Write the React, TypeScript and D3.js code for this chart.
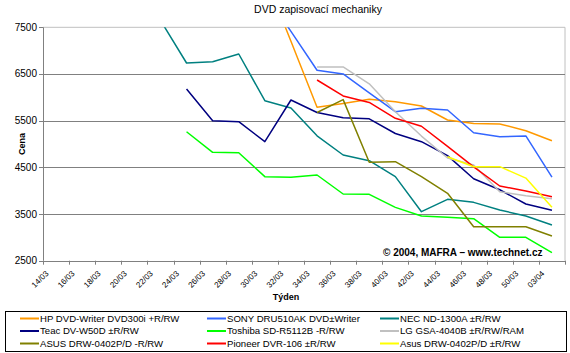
import React from "react";
import * as d3 from "d3";

const categories = ["14/03","16/03","18/03","20/03","22/03","24/03","26/03","28/03","30/03","32/03","34/03","36/03","38/03","40/03","42/03","44/03","46/03","48/03","50/03","03/04"];
const yTicks = [2500, 3500, 4500, 5500, 6500, 7500];

type V = number | null;
const hp: V[] =      [null,null,null,null,null,null,null,null,8600,7200,5786,5870,5960,5906,5814,5514,5440,5430,5285,5071];
const sony: V[] =    [null,null,null,null,null,null,null,null,8220,7414,6580,6500,6093,5692,5765,5729,5240,5157,5172,4290];
const nec: V[] =     [null,null,null,null,7650,6735,6763,6928,5928,5770,5175,4764,4642,4300,3550,3815,3750,3586,3458,3265];
const teac: V[] =    [null,null,null,null,null,6180,5500,5478,5050,5943,5675,5564,5540,5225,5050,4750,4255,4020,3715,3580];
const toshiba: V[] = [null,null,null,null,null,5263,4822,4814,4300,4287,4336,3929,3922,3643,3458,3430,3400,3000,3000,2671];
const lg: V[] =      [null,null,null,null,null,null,null,null,null,null,6650,6650,6290,5692,5170,4700,4550,3979,3890,3826];
const asusR: V[] =   [null,null,null,null,null,null,null,null,null,null,5675,5950,4608,4621,4300,3944,3229,3229,3229,3030];
const pioneer: V[] = [null,null,null,null,null,null,null,null,null,null,6371,6030,5890,5550,5380,4950,4510,4100,3995,3871];
const asusPM: V[] =  [null,null,null,null,null,null,null,null,null,null,null,null,null,null,null,4728,4514,4514,4270,3644];

const seriesNames = [
  "HP DVD-Writer DVD300i +R/RW",
  "SONY DRU510AK DVD±Writer",
  "NEC ND-1300A ±R/RW",
  "Teac DV-W50D ±R/RW",
  "Toshiba SD-R5112B -R/RW",
  "LG GSA-4040B ±R/RW/RAM",
  "ASUS DRW-0402P/D -R/RW",
  "Pioneer DVR-106 ±R/RW",
  "Asus DRW-0402P/D ±R/RW",
];
const seriesValues = [hp, sony, nec, teac, toshiba, lg, asusR, pioneer, asusPM];
const seriesColors = ["#FF9900", "#3366FF", "#008080", "#000080", "#00FF00", "#C0C0C0", "#808000", "#FF0000", "#FFFF00"];

const FONT = "'Liberation Sans', Arial, sans-serif";

export default function App() {
  const left = 43, right = 565, top = 27.3, bottom = 260.7;
  const x = d3.scaleBand<string>().domain(categories).range([left, right]).padding(0);
  const y = d3.scaleLinear().domain([2500, 7500]).range([bottom, top]);
  const cx = (i: number) => (x(categories[i]) as number) + x.bandwidth() / 2;

  const line = d3.line<V>()
    .defined((d) => d !== null)
    .x((_, i) => cx(i))
    .y((d) => y(d as number));

  const tickXs = categories.map((c) => x(c) as number).concat([right]);

  const legendCols = [20, 207, 380];
  const legendRows = [318.5, 331, 343.5];

  return (
    <svg width={570} height={353} style={{ position: "absolute", left: 0, top: 0, background: "#fff" }} fontFamily={FONT}>
      <defs>
        <clipPath id="plotclip">
          <rect x={left} y={top} width={right - left} height={bottom - top} />
        </clipPath>
      </defs>
      <text x={318} y={13} textAnchor="middle" fontSize={10.5} fill="#000">DVD zapisovací mechaniky</text>

      {/* plot border */}
      <line x1={left} x2={right} y1={top} y2={top} stroke="#c0c0c0" />
      <line x1={right} x2={right} y1={top} y2={bottom} stroke="#c0c0c0" />
      {/* gridlines */}
      {yTicks.filter((t) => t !== 2500 && t !== 7500).map((t) => (
        <line key={t} x1={left} x2={right} y1={Math.round(y(t)) + 0.5} y2={Math.round(y(t)) + 0.5} stroke="#808080" />
      ))}
      {/* axes */}
      <line x1={left + 0.5} x2={left + 0.5} y1={top} y2={bottom} stroke="#808080" />
      <line x1={left} x2={right} y1={Math.round(bottom) + 0.5} y2={Math.round(bottom) + 0.5} stroke="#808080" />
      {yTicks.map((t) => (
        <g key={t}>
          <line x1={left - 4} x2={left} y1={Math.round(y(t)) + 0.5} y2={Math.round(y(t)) + 0.5} stroke="#808080" />
          <text x={37} y={y(t)} dy="0.35em" textAnchor="end" fontSize={10} fill="#000">{t}</text>
        </g>
      ))}
      {tickXs.map((tx, i) => (
        <line key={i} x1={Math.round(tx) + 0.5} x2={Math.round(tx) + 0.5} y1={bottom} y2={bottom + 4} stroke="#808080" />
      ))}
      {categories.map((c, i) => (
        <text key={c} transform={`translate(${cx(i) - 9},${272}) rotate(-45)`} textAnchor="end" dy="0.35em" fontSize={8} fill="#000">{c}</text>
      ))}
      <text transform={`translate(25,144) rotate(-90)`} textAnchor="middle" fontSize={9} fontWeight="bold" fill="#000">Cena</text>
      <text x={286} y={300} textAnchor="middle" fontSize={9} fontWeight="bold" fill="#000">Týden</text>

      <g clipPath="url(#plotclip)">
        {seriesValues.map((vals, si) => (
          <path key={si} d={line(vals) || ""} fill="none" stroke={seriesColors[si]} strokeWidth={1.5} strokeLinejoin="round" />
        ))}
      </g>

      <text x={383} y={256} fontSize={10} fontWeight="bold" fill="#000">© 2004, MAFRA – www.technet.cz</text>

      {/* legend */}
      <rect x={5.5} y={311.5} width={561} height={40} fill="#fff" stroke="#000" />
      {seriesNames.map((name, si) => {
        const col = si % 3, row = Math.floor(si / 3);
        const lx = legendCols[col], ly = legendRows[row];
        return (
          <g key={name}>
            <line x1={lx} x2={lx + 19} y1={ly} y2={ly} stroke={seriesColors[si]} strokeWidth={2} />
            <text x={lx + 20} y={ly} dy="0.35em" fontSize={9.6} fill="#000">{name}</text>
          </g>
        );
      })}
    </svg>
  );
}
